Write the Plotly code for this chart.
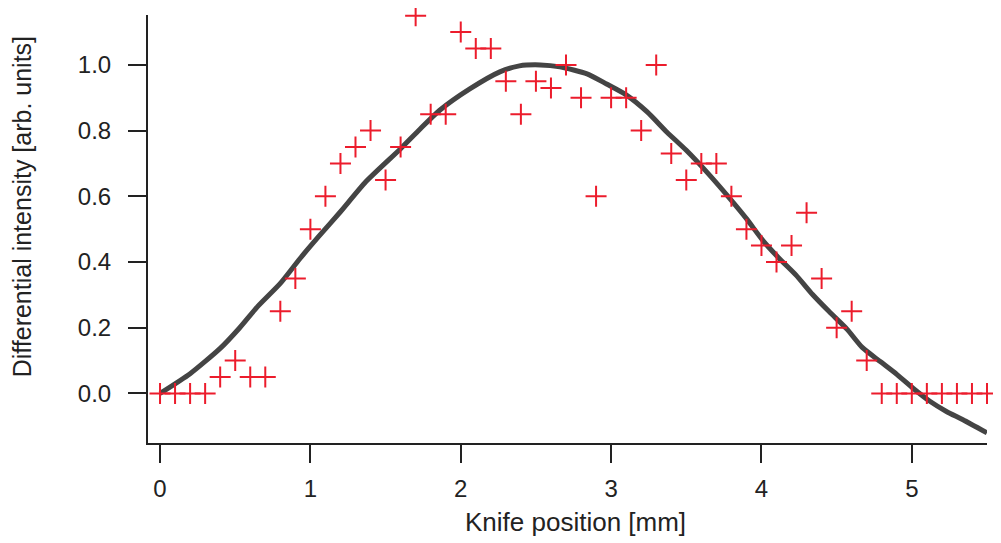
import plotly.graph_objects as go

# Measured data points (red crosses)
knife_pos = [round(0.1 * i, 1) for i in range(56)]
intensity = [0, 0, 0, 0, 0.05, 0.1, 0.05, 0.05, 0.25, 0.35,
             0.5, 0.6, 0.7, 0.75, 0.8, 0.65, 0.75, 1.15, 0.85, 0.85,
             1.1, 1.05, 1.05, 0.95, 0.85, 0.95, 0.93, 1.0, 0.9, 0.6,
             0.9, 0.9, 0.8, 1.0, 0.73, 0.65, 0.7, 0.7, 0.6, 0.5,
             0.45, 0.4, 0.45, 0.55, 0.35, 0.2, 0.25, 0.1, 0, 0,
             0, 0, 0, 0, 0, 0]

# Fit curve (dark line)
fit_x = [0.0, 0.2, 0.4, 0.53, 0.65, 0.8, 0.93, 1.06, 1.2, 1.37, 1.6, 1.73,
         1.86, 2.06, 2.26, 2.39, 2.53, 2.66, 2.84, 2.97, 3.1, 3.24, 3.37,
         3.5, 3.64, 3.79, 3.9, 4.01, 4.12, 4.23, 4.34, 4.45, 4.57, 4.67,
         4.79, 4.9, 5.01, 5.12, 5.23, 5.34, 5.5]
fit_y = [0.0, 0.06, 0.137, 0.2, 0.265, 0.335, 0.41, 0.48, 0.553, 0.645, 0.745,
         0.805, 0.862, 0.927, 0.979, 0.997, 1.0, 0.994, 0.973, 0.942, 0.909,
         0.857, 0.796, 0.74, 0.672, 0.593, 0.532, 0.465, 0.41, 0.36, 0.301,
         0.249, 0.195, 0.14, 0.097, 0.058, 0.015, -0.024, -0.055, -0.08, -0.12]

x_ticks = [0, 1, 2, 3, 4, 5]
y_ticks = [0.0, 0.2, 0.4, 0.6, 0.8, 1.0]

fig = go.Figure()
fig.add_trace(go.Scatter(
    x=fit_x, y=fit_y, mode="lines",
    line=dict(color="#444444", width=5, shape="spline", smoothing=0.6),
    showlegend=False, hoverinfo="skip"))
fig.add_trace(go.Scatter(
    x=knife_pos, y=intensity, mode="markers", cliponaxis=False,
    marker=dict(symbol="cross-thin", size=15,
                line=dict(color="#ec1c2c", width=2)),
    showlegend=False))

font_family = "Liberation Sans, Arial, sans-serif"
axis_common = dict(showline=True, linecolor="#222222", linewidth=2,
                   ticks="outside", ticklen=18, tickwidth=1.5,
                   tickcolor="#222222", showgrid=False, zeroline=False,
                   automargin=False,
                   tickfont=dict(family=font_family, size=24, color="#222222"))

fig.update_layout(
    width=1001, height=543,
    margin=dict(l=140, r=22, t=7, b=108),
    plot_bgcolor="white", paper_bgcolor="white",
    xaxis=dict(range=[-0.08, 5.5], tickvals=x_ticks, ticklabelstandoff=5,
               **axis_common),
    yaxis=dict(range=[-0.151, 1.152], tickvals=y_ticks, tickformat=".1f",
               ticklabelstandoff=12, **axis_common),
    annotations=[
        dict(text="Knife position [mm]", xref="paper", yref="paper",
             x=0.509, y=-0.185, xanchor="center", yanchor="middle",
             showarrow=False,
             font=dict(family=font_family, size=26, color="#222222")),
        dict(text="Differential intensity [arb. units]", xref="paper",
             yref="paper", x=-0.150, y=0.551, xanchor="center",
             yanchor="middle", textangle=-90, showarrow=False,
             font=dict(family=font_family, size=25, color="#222222")),
    ],
)

fig.write_html("out.html")
